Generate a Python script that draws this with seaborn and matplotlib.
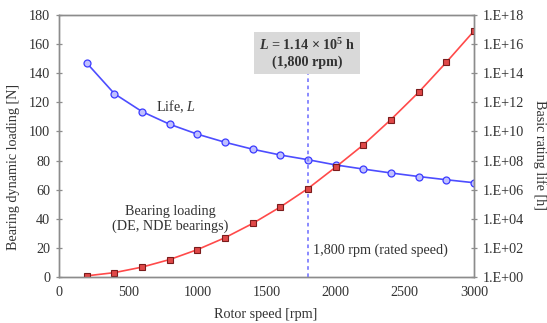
import matplotlib
matplotlib.use("Agg")
import matplotlib.pyplot as plt
import matplotlib.ticker as mticker
import seaborn as sns
import pandas as pd

# ---- data ----
speed = [200, 400, 600, 800, 1000, 1200, 1400, 1600, 1800, 2000, 2200, 2400, 2600, 2800, 3000]
loading = [0.8, 3.0, 6.8, 12.0, 18.8, 27.0, 36.8, 48.1, 60.8, 75.5, 90.8, 108.2, 126.9, 147.5, 169.0]
life = [5.0e14, 3.9e12, 2.3e11, 3.1e10, 6.5e9, 1.8e9, 6.0e8, 2.4e8, 1.14e8,
        5.0e7, 2.6e7, 1.4e7, 8.0e6, 4.8e6, 3.0e6]
rated = 1800
left_ticks = [0, 20, 40, 60, 80, 100, 120, 140, 160, 180]
x_ticks = [0, 500, 1000, 1500, 2000, 2500, 3000]
right_ticks = [1e0, 1e2, 1e4, 1e6, 1e8, 1e10, 1e12, 1e14, 1e16, 1e18]
right_labels = ["1.E+00", "1.E+02", "1.E+04", "1.E+06", "1.E+08",
                "1.E+10", "1.E+12", "1.E+14", "1.E+16", "1.E+18"]

df = pd.DataFrame({"speed": speed, "loading": loading, "life": life})

sns.set_style("white")
plt.rcParams["font.family"] = ["Liberation Serif", "DejaVu Serif"]
plt.rcParams["mathtext.fontset"] = "custom"
plt.rcParams["mathtext.rm"] = "Liberation Serif"
plt.rcParams["mathtext.it"] = "Liberation Serif:italic"
plt.rcParams["mathtext.bf"] = "Liberation Serif:bold"
plt.rcParams["mathtext.bfit"] = "Liberation Serif:italic:bold"

txt = "#333333"
spine_c = "#8c8c8c"
fs = 10.2

fig = plt.figure(figsize=(5.47, 3.23), dpi=100)
ax = fig.add_axes([0.108, 0.1424, 0.7585, 0.8112])
ax2 = ax.twinx()

sns.lineplot(data=df, x="speed", y="loading", ax=ax, color="#ff4a4a", lw=1.2,
             marker="s", markersize=4.5, markerfacecolor="#e04848",
             markeredgecolor="#7a1c1c", markeredgewidth=0.8)
sns.lineplot(data=df, x="speed", y="life", ax=ax2, color="#4d4dff", lw=1.2,
             marker="o", markersize=5, markerfacecolor="#c0c0ff",
             markeredgecolor="#3b3bff", markeredgewidth=0.9)

ax.set_xlim(0, 3000)
ax.set_ylim(0, 180)
ax2.set_yscale("log")
ax2.set_ylim(1e0, 1e18)
ax.set_xticks(x_ticks)
ax.set_yticks(left_ticks)
ax2.yaxis.set_major_locator(mticker.FixedLocator(right_ticks))
ax2.yaxis.set_minor_locator(mticker.NullLocator())
ax2.set_yticks(right_ticks)
ax2.set_yticklabels(right_labels)

for a in (ax, ax2):
    for s in a.spines.values():
        s.set_color(spine_c)
        s.set_linewidth(1.0)
        s.set_visible(True)
    a.tick_params(direction="inout", length=5, width=0.9, color=spine_c,
                  labelsize=fs, labelcolor=txt, pad=4)

ax.set_xlabel("Rotor speed [rpm]", fontsize=fs, color=txt)
ax.xaxis.set_label_coords(0.4976, -0.118)
ax.set_ylabel("Bearing dynamic loading [N]", fontsize=fs, color=txt, va="center")
ax.yaxis.set_label_coords(-0.111, 0.42)
ax2.set_ylabel("Basic rating life [h]", fontsize=fs, color=txt, rotation=-90,
               va="center")
ax2.yaxis.set_label_coords(1.159, 0.466)

# rated speed marker
ax.vlines(rated, 0, 140, colors="#8080ff", linestyles=(0, (2, 2)), lw=1.3, zorder=1)
ax.text(rated + 37, 18.5, "1,800 rpm (rated speed)", fontsize=fs, color=txt,
        ha="left", va="center")
ax.text(rated - 7, 154, "$\\mathbfit{L}$ = 1.14 × 10$^{\\mathbf{5}}$ h\n(1,800 rpm)",
        fontsize=fs, color=txt, fontweight="bold", ha="center", va="center",
        linespacing=1.2,
        bbox=dict(boxstyle="square,pad=0.35", facecolor="#d9d9d9", edgecolor="none"))

ax.text(846, 117, "Life, $\\mathit{L}$", fontsize=fs, color=txt, ha="center", va="center")
ax.text(803, 40, "Bearing loading\n(DE, NDE bearings)", fontsize=fs, color=txt,
        ha="center", va="center", linespacing=1.2)

ax.set_zorder(ax2.get_zorder() + 1)
ax.patch.set_visible(False)

fig.savefig("out.png", dpi=100)
